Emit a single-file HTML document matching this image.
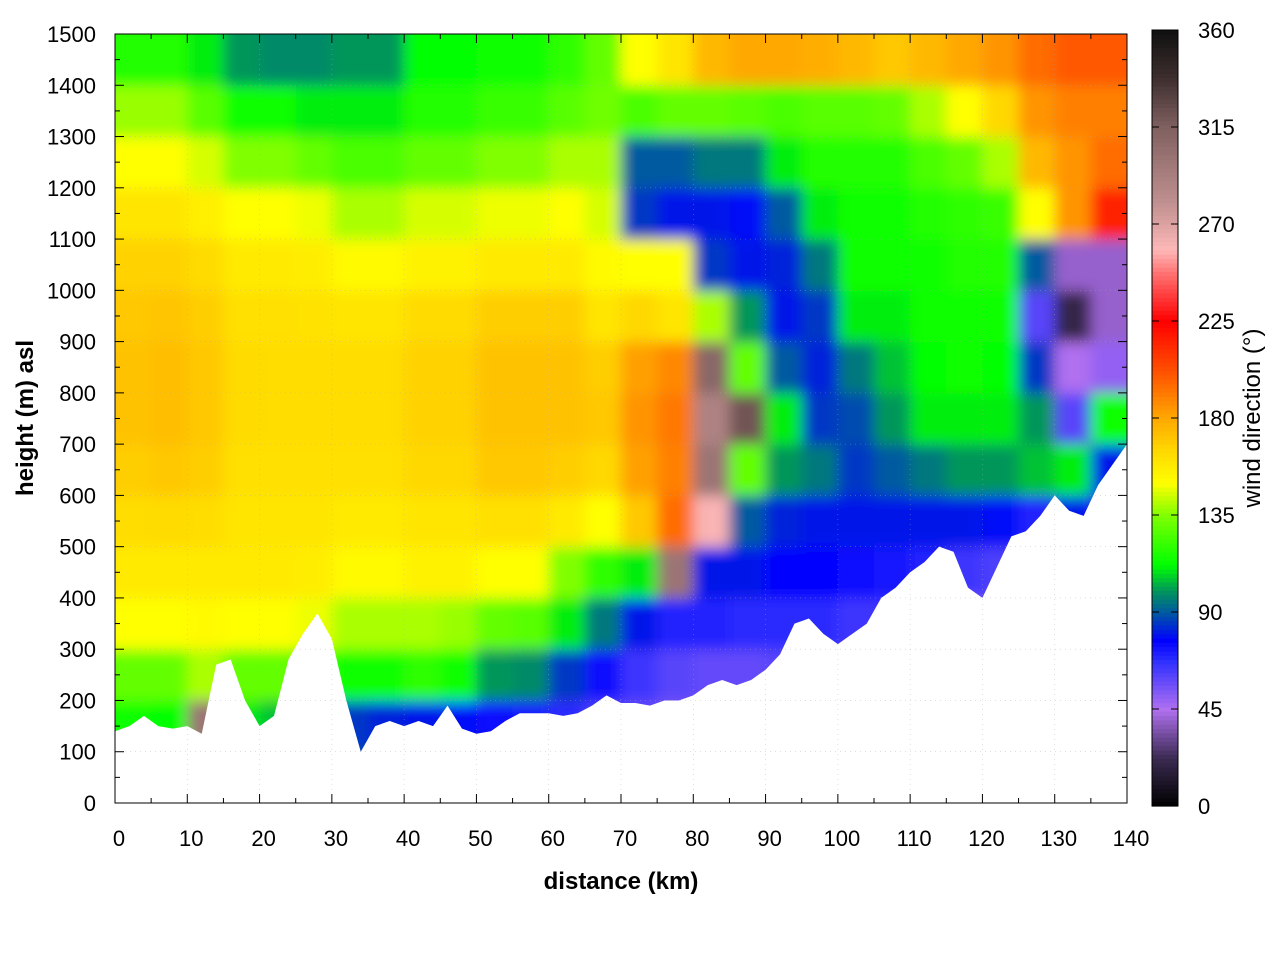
<!DOCTYPE html>
<html><head><meta charset="utf-8"><style>
body{margin:0;background:#fff;}
svg text{font-family:"Liberation Sans",sans-serif;}
</style></head><body>
<svg id="chart" width="1280" height="960" xmlns="http://www.w3.org/2000/svg">
<defs>
<clipPath id="plotclip"><rect x="115" y="34" width="1012" height="769"/></clipPath>
<filter id="soft" x="-5%" y="-5%" width="110%" height="110%"><feGaussianBlur stdDeviation="7"/></filter>
</defs>
<g id="field-wrap" clip-path="url(#plotclip)"><g id="field" filter="url(#soft)"></g><g id="terrain"></g></g>
<g id="grid"></g>
<g id="axes"></g>
<g id="cbar"></g>
</svg>
<script>
const colStartKm = [0,5,10,15,20,25,30,35,40,45,50,55,60,65,70,75,80,85,90,95,100,105,110,115,120,125,130,135];
const rowStartM = [0,100,200,300,400,500,600,700,800,900,1000,1100,1200,1300,1400];
const dirC0=[90,115,130,150,158,163,168,172,172,170,167,160,150,138,118];
const dirC1=[90,112,130,150,158,164,170,173,173,171,167,160,150,138,118];
const dirC2=[90,300,140,152,158,163,168,170,170,168,164,156,145,128,110];
const dirC3=[90,110,130,150,158,160,162,164,164,162,158,150,135,115,100];
const dirC4=[90,105,130,150,158,160,162,163,163,162,158,150,135,115,98];
const dirC5=[90,100,125,148,157,160,162,163,163,161,157,148,130,110,98];
const dirC6=[90,85,115,140,152,158,162,163,163,160,152,140,125,110,100];
const dirC7=[90,82,115,140,152,158,162,163,163,160,152,140,125,110,100];
const dirC8=[90,80,120,140,155,160,165,167,167,164,155,145,130,118,112];
const dirC9=[90,78,115,138,155,160,165,167,167,164,155,145,130,118,112];
const dirC10=[78,74,100,130,150,162,170,172,172,168,158,148,135,122,114];
const dirC11=[76,72,98,128,150,162,170,172,172,168,158,148,135,122,114];
const dirC12=[70,68,85,110,135,158,168,172,172,168,158,150,140,128,120];
const dirC13=[65,62,75,95,120,150,165,170,168,160,152,145,140,132,130];
const dirC14=[60,58,65,80,110,170,182,185,182,165,150,85,90,125,150];
const dirC15=[55,55,60,70,300,195,190,192,188,160,150,80,90,130,160];
const dirC16=[55,55,58,70,80,260,300,290,310,140,85,80,95,130,175];
const dirC17=[55,55,58,68,80,90,130,320,130,100,80,78,95,128,180];
const dirC18=[55,55,60,68,76,82,100,110,90,80,82,90,110,125,180];
const dirC19=[55,55,60,68,76,80,95,85,82,85,95,110,118,128,178];
const dirC20=[55,55,58,65,75,80,85,88,95,110,115,115,118,128,175];
const dirC21=[55,55,58,65,72,80,90,100,105,110,115,115,118,130,170];
const dirC22=[55,55,58,62,70,80,95,110,112,115,115,118,125,140,175];
const dirC23=[55,55,58,50,65,80,100,110,115,115,118,120,130,150,180];
const dirC24=[55,55,58,60,62,78,100,110,112,115,118,122,140,165,185];
const dirC25=[55,55,58,60,62,70,105,100,85,60,90,150,175,185,195];
const dirC26=[55,55,58,60,62,80,110,60,45,20,40,185,185,190,200];
const dirC27=[55,55,58,60,62,70,80,115,50,40,40,215,195,190,200];
const dirCols=[dirC0,dirC1,dirC2,dirC3,dirC4,dirC5,dirC6,dirC7,dirC8,dirC9,dirC10,dirC11,dirC12,dirC13,dirC14,dirC15,dirC16,dirC17,dirC18,dirC19,dirC20,dirC21,dirC22,dirC23,dirC24,dirC25,dirC26,dirC27];
const terrainKm=[0,2,4,6,8,10,12,14,16,18,20,22,24,26,28,30,32,34,36,38,40,42,44,46,48,50,52,54,56,58,60,62,64,66,68,70,72,74,76,78,80,82,84,86,88,90,92,94,96,98,100,102,104,106,108,110,112,114,116,118,120,122,124,126,128,130,132,134,136,138,140];
const terrainM=[140,150,170,150,145,150,135,270,280,200,150,170,280,330,370,320,200,100,150,160,150,160,150,190,145,135,140,160,175,175,175,170,175,190,210,195,195,190,200,200,210,230,240,230,240,260,290,350,360,330,310,330,350,400,420,450,470,500,490,420,400,460,520,530,560,600,570,560,620,660,700];
const xTicks=[0,10,20,30,40,50,60,70,80,90,100,110,120,130,140];
const yTicks=[0,100,200,300,400,500,600,700,800,900,1000,1100,1200,1300,1400,1500];
const cbTicks=[0,45,90,135,180,225,270,315,360];

const NS="http://www.w3.org/2000/svg";
const X0=115,X1=1127,Y0=803,Y1=34;
const sx=k=>X0+(k/140)*(X1-X0);
const sy=m=>Y0-(m/1500)*(Y0-Y1);
const stops=[[0,[0,0,0]],[22,[58,42,80]],[45,[176,112,240]],[67,[48,48,255]],[77,[0,0,255]],[90,[0,90,160]],[100,[0,150,90]],[112,[0,255,0]],[135,[128,255,0]],[150,[255,255,0]],[165,[255,216,0]],[180,[255,168,0]],[202,[255,80,0]],[225,[255,0,0]],[247,[255,112,112]],[258,[255,184,184]],[280,[192,144,144]],[315,[128,96,96]],[337,[64,48,48]],[360,[16,16,16]]];
function cmap(d){for(let i=1;i<stops.length;i++){if(d<=stops[i][0]){const a=stops[i-1],b=stops[i],t=(d-a[0])/(b[0]-a[0]);const c=a[1].map((v,j)=>Math.round(v+(b[1][j]-v)*t));return `rgb(${c})`;}}return 'rgb(16,16,16)';}
function mk(tag,attrs,parent){const e=document.createElementNS(NS,tag);for(const k in attrs)e.setAttribute(k,attrs[k]);parent.appendChild(e);return e;}

const field=document.getElementById('field');
dirCols.forEach((col,i)=>{col.forEach((d,j)=>{
  const x=sx(colStartKm[i]),w=sx(colStartKm[i]+5)-x+0.5;
  const y=sy(rowStartM[j]+100),h=sy(rowStartM[j])-y+0.5;
  const r=mk('rect',{x:x-(i==0?30:0),y:y-(j==14?30:0),width:w+(i==0?30:0)+(i==27?30:0),height:h+(j==14?30:0),fill:cmap(d)},field);
  
  
});});
const terr=document.getElementById('terrain');
let pts=`${sx(0)-5},${Y0+5} `;
terrainKm.forEach((k,i)=>{pts+=`${sx(k)},${sy(terrainM[i])} `;});
pts+=`${sx(140)+5},${Y0+5}`;
const tp=mk('polygon',{points:pts,fill:'#fff'},terr);



const grid=document.getElementById('grid');
xTicks.forEach(k=>{if(k>0&&k<140)mk('line',{x1:sx(k),x2:sx(k),y1:Y1,y2:Y0,stroke:'#aaa','stroke-width':0.6,'stroke-dasharray':'1,4',opacity:0.6},grid);});
yTicks.forEach(m=>{if(m>0&&m<1500)mk('line',{x1:X0,x2:X1,y1:sy(m),y2:sy(m),stroke:'#aaa','stroke-width':0.6,'stroke-dasharray':'1,4',opacity:0.6},grid);});

const ax=document.getElementById('axes');
const fr=mk('rect',{x:X0,y:Y1,width:X1-X0,height:Y0-Y1,fill:'none',stroke:'#000','stroke-width':1},ax);

xTicks.forEach(k=>{const x=sx(k);
  mk('line',{x1:x,x2:x,y1:Y0,y2:Y0-9,stroke:'#000'},ax);mk('line',{x1:x,x2:x,y1:Y1,y2:Y1+9,stroke:'#000'},ax);
  if(k<140){const xm=sx(k+5);mk('line',{x1:xm,x2:xm,y1:Y0,y2:Y0-5,stroke:'#000'},ax);mk('line',{x1:xm,x2:xm,y1:Y1,y2:Y1+5,stroke:'#000'},ax);}
  const t=mk('text',{x:x+4,y:846,'font-size':22,'text-anchor':'middle'},ax);t.textContent=k;
  });
yTicks.forEach(m=>{const y=sy(m);
  mk('line',{x1:X0,x2:X0+9,y1:y,y2:y,stroke:'#000'},ax);mk('line',{x1:X1,x2:X1-9,y1:y,y2:y,stroke:'#000'},ax);
  if(m<1500){const ym=sy(m+50);mk('line',{x1:X0,x2:X0+5,y1:ym,y2:ym,stroke:'#000'},ax);mk('line',{x1:X1,x2:X1-5,y1:ym,y2:ym,stroke:'#000'},ax);}
  const t=mk('text',{x:96,y:y+8,'font-size':22,'text-anchor':'end'},ax);t.textContent=m;
  });
const xt=mk('text',{x:621,y:889,'font-size':24,'font-weight':'bold','text-anchor':'middle'},ax);xt.textContent='distance (km)';

const yt=mk('text',{x:33,y:418,'font-size':24,'font-weight':'bold','text-anchor':'middle',transform:'rotate(-90 33 418)'},ax);yt.textContent='height (m) asl';


const cb=document.getElementById('cbar');
const CB0=806,CB1=30,CBX=1152,CBW=26;
for(let d=0;d<360;d+=2){const y0=CB0-(d+2)/360*(CB0-CB1);const y1=CB0-d/360*(CB0-CB1);
  const r=mk('rect',{x:CBX,y:y0,width:CBW,height:y1-y0+0.6,fill:cmap(d+1)},cb);
  }
mk('rect',{x:CBX,y:CB1,width:CBW,height:CB0-CB1,fill:'none',stroke:'#000'},cb);
cbTicks.forEach(d=>{const y=CB0-d/360*(CB0-CB1);
  mk('line',{x1:CBX,x2:CBX+7,y1:y,y2:y,stroke:'#000'},cb);mk('line',{x1:CBX+CBW,x2:CBX+CBW-7,y1:y,y2:y,stroke:'#000'},cb);
  const t=mk('text',{x:1198,y:y+8,'font-size':22},cb);t.textContent=d;
  });
const ct=mk('text',{x:1260,y:418,'font-size':24,'text-anchor':'middle',transform:'rotate(-90 1260 418)'},cb);ct.textContent='wind direction (°)';

</script>
</body></html>
